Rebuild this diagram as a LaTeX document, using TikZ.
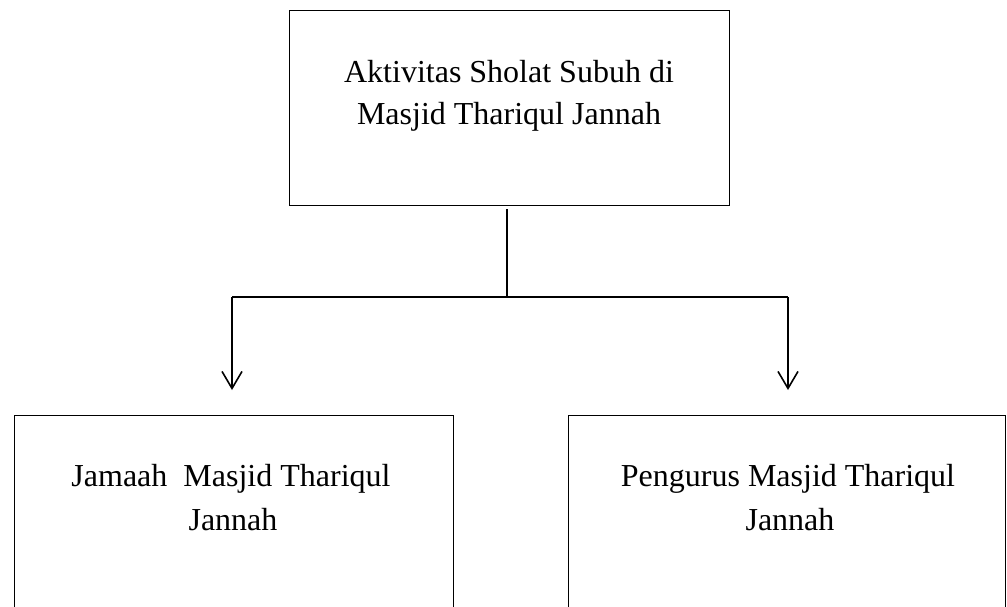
\documentclass[tikz,border=0pt]{standalone}
\usepackage{fontspec}
\setmainfont{Liberation Serif}
\usetikzlibrary{arrows.meta}
\begin{document}
\begin{tikzpicture}[x=1pt,y=-1pt,
  boxstyle/.style={draw=black,line width=1pt,inner sep=0pt},
  label/.style={anchor=base,inner sep=0pt,font=\fontsize{32}{38}\selectfont},
  conn/.style={line width=2pt},
  arr/.style={line width=2pt,-{Straight Barb[length=17pt,width=20pt,line width=1.6pt]}}]
\useasboundingbox (0,0) rectangle (1007,606);
\clip (0,0) rectangle (1007,606);
% boxes
\draw[boxstyle] (289,10) rectangle (729,205);
\node[boxstyle,draw=none,minimum width=440pt,minimum height=195pt] (top) at (509,107.5) {};
\draw[boxstyle] (14,415) rectangle (453,640);
\draw[boxstyle] (568,415) rectangle (1005,640);
% texts
\node[label] (t1) at (509,82) {Aktivitas Sholat Subuh di};
\node[label] (t2) at (509,124) {Masjid Thariqul Jannah};
\node[label] (l1) at (231,486) {Jamaah\ \ Masjid Thariqul};
\node[label] (l2) at (233,530) {Jannah};
\node[label] (r1) at (788,486) {Pengurus Masjid Thariqul};
\node[label] (r2) at (790,530) {Jannah};
% connectors
\coordinate (stem) at (507,209);
\coordinate (junc) at (507,297);
\coordinate (lcorner) at (232,297);
\coordinate (rcorner) at (788,297);
\coordinate (ltip) at (232,390);
\coordinate (rtip) at (788,390);
\draw[conn] (stem) -- (junc);
\draw[conn] (lcorner) -- (rcorner);
\draw[arr] (lcorner) -- (ltip);
\draw[arr] (rcorner) -- (rtip);
\end{tikzpicture}
\end{document}
